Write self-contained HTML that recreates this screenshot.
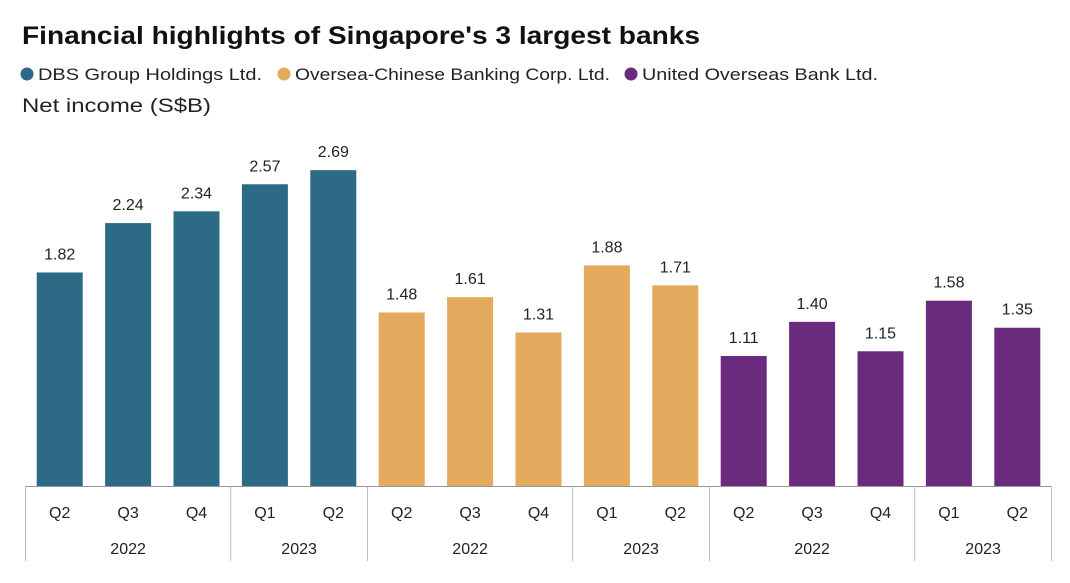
<!DOCTYPE html>
<html><head><meta charset="utf-8"><style>
body{margin:0;background:#fff;font-family:"Liberation Sans",sans-serif;}
</style></head><body>
<svg width="1070" height="578" xmlns="http://www.w3.org/2000/svg" id="chart">
<text x="22" y="44" font-size="25" font-weight="bold" fill="#111" textLength="678" lengthAdjust="spacingAndGlyphs">Financial highlights of Singapore's 3 largest banks</text>
<g font-size="17" fill="#222">
<circle cx="27" cy="74" r="6.5" fill="#2c6a85"/>
<text x="38" y="80" textLength="224" lengthAdjust="spacingAndGlyphs">DBS Group Holdings Ltd.</text>
<circle cx="284" cy="74" r="6.5" fill="#e3a95c"/>
<text x="295" y="80" textLength="315" lengthAdjust="spacingAndGlyphs">Oversea-Chinese Banking Corp. Ltd.</text>
<circle cx="631" cy="74" r="6.5" fill="#6a2a7d"/>
<text x="642" y="80" textLength="236" lengthAdjust="spacingAndGlyphs">United Overseas Bank Ltd.</text>
</g>
<text x="22" y="112" font-size="19" fill="#222" textLength="189" lengthAdjust="spacingAndGlyphs">Net income (S$B)</text>
<g id="bars"></g>
</svg>
<script>
const quarters=["Q2","Q3","Q4","Q1","Q2","Q2","Q3","Q4","Q1","Q2","Q2","Q3","Q4","Q1","Q2"];
const dbsValues=[1.82,2.24,2.34,2.57,2.69];
const ocbcValues=[1.48,1.61,1.31,1.88,1.71];
const uobValues=[1.11,1.40,1.15,1.58,1.35];
const yearLabels=["2022","2023","2022","2023","2022","2023"];
const yearSpans=[3,2,3,2,3,2];
const colors=["#2c6a85","#e3a95c","#6a2a7d"];
const ns="http://www.w3.org/2000/svg";
const g=document.getElementById("bars");
const x0=25.5,band=68.4,baseY=486.5,scale=117.6,bw=46;
const xPos=i=>x0+band*i+band/2;
const yPos=v=>baseY-v*scale;
function mk(tag,attrs){const e=document.createElementNS(ns,tag);for(const k in attrs)e.setAttribute(k,attrs[k]);g.appendChild(e);return e;}
const series=[dbsValues,ocbcValues,uobValues];
let idx=0;
series.forEach((vals,s)=>{vals.forEach(v=>{
 const r=mk("rect",{x:xPos(idx)-bw/2,y:yPos(v),width:bw,height:baseY-yPos(v),fill:colors[s]});
 
 
 const t=mk("text",{x:xPos(idx),y:yPos(v)-13,"text-anchor":"middle","font-size":"16",fill:"#222"});
 t.textContent=v.toFixed(2);
 
 
 idx++;});});
const ax=mk("line",{x1:x0,x2:x0+band*15,y1:baseY,y2:baseY,stroke:"#999","stroke-width":1});


quarters.forEach((q,i)=>{
 const t=mk("text",{x:xPos(i),y:518,"text-anchor":"middle","font-size":"16",fill:"#222"});
 t.textContent=q;
 
 
});
let start=0;
const sep0=mk("line",{x1:x0,x2:x0,y1:baseY,y2:561,stroke:"#bbb"});


yearLabels.forEach((y,k)=>{
 const end=start+yearSpans[k];
 const t=mk("text",{x:x0+band*(start+end)/2,y:554,"text-anchor":"middle","font-size":"16",fill:"#222"});
 t.textContent=y;
 
 
 const l=mk("line",{x1:x0+band*end,x2:x0+band*end,y1:baseY,y2:561,stroke:"#bbb"});
 
 
 start=end;
});
</script>
</body></html>
